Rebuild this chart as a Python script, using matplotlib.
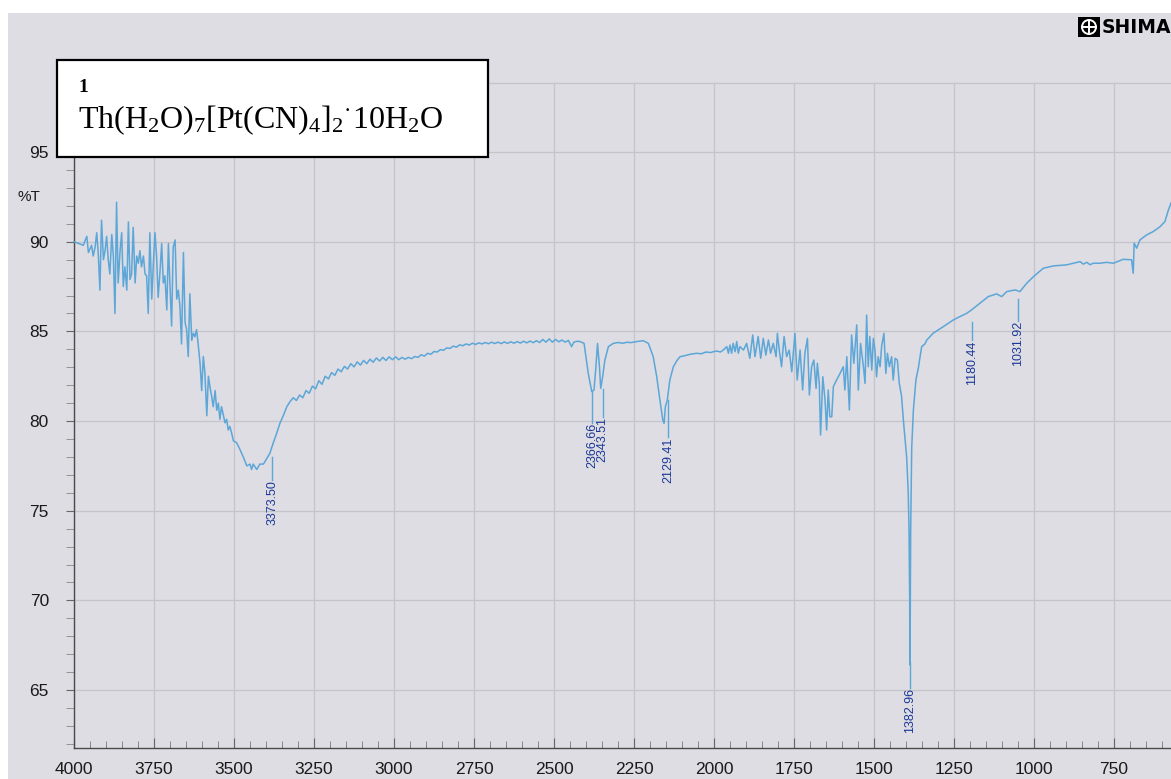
import matplotlib
matplotlib.use("Agg")
import matplotlib.pyplot as plt
from matplotlib.patches import Rectangle, Ellipse
from matplotlib.lines import Line2D
from matplotlib.ticker import MultipleLocator

# ---------------- data ----------------
# O-H region 4000 -> 3335 cm-1
wn_oh = [4000, 3985, 3971, 3960, 3955, 3945, 3940, 3934, 3929, 3924, 3919, 3914, 3908, 3903,
         3898, 3893, 3888, 3882, 3877, 3872, 3867, 3862, 3856, 3851, 3846, 3841, 3835, 3830,
         3825, 3820, 3815, 3809, 3804, 3799, 3794, 3789, 3783, 3778, 3773, 3768, 3763, 3757,
         3752, 3747, 3742, 3737, 3731, 3726, 3721, 3716, 3710, 3705, 3700, 3695, 3690, 3684,
         3679, 3674, 3669, 3664, 3658, 3653, 3648, 3643, 3638, 3632, 3627, 3622, 3617, 3612,
         3606, 3601, 3596, 3591, 3585, 3580, 3575, 3570, 3565, 3559, 3554, 3549, 3544, 3539,
         3533, 3528, 3523, 3518, 3513, 3507, 3502, 3492, 3481, 3471, 3460, 3450, 3445, 3440,
         3429, 3419, 3408, 3398, 3388, 3377, 3367, 3356, 3346, 3335]
t_oh = [90.0, 89.9, 89.8, 90.3, 89.4, 89.8, 89.2, 89.7, 90.5, 89.3, 87.3, 91.2, 89.0, 89.5,
        90.3, 89.0, 88.2, 90.4, 89.2, 86.0, 92.2, 87.7, 89.5, 90.5, 87.5, 88.6, 87.3, 91.1,
        87.9, 88.2, 90.8, 87.7, 89.2, 88.8, 89.5, 88.6, 89.2, 88.2, 88.1, 86.0, 90.5, 86.8,
        88.8, 90.5, 89.2, 86.9, 88.4, 89.9, 87.7, 88.1, 86.2, 89.9, 87.5, 85.3, 89.7, 90.1,
        86.8, 87.3, 86.4, 84.3, 89.4, 85.5, 85.1, 83.6, 87.1, 84.5, 84.9, 84.7, 85.1, 84.3,
        83.2, 81.7, 83.6, 82.7, 80.3, 82.5, 81.9, 81.4, 80.8, 81.7, 80.6, 81.0, 80.1, 80.8,
        80.3, 79.9, 80.1, 79.5, 79.7, 79.3, 78.9, 78.8, 78.4, 78.0, 77.5, 77.6, 77.3, 77.6,
        77.3, 77.6, 77.6, 77.9, 78.2, 78.8, 79.3, 79.9, 80.3, 80.8]

# baseline, CO2 doublet and C-N stretch 3325 -> 1971 cm-1
wn_mid = [3325, 3315, 3305, 3295, 3285, 3275, 3265, 3255, 3245, 3235, 3225, 3215, 3205, 3195,
          3185, 3175, 3165, 3155, 3145, 3135, 3125, 3115, 3105, 3095, 3085, 3075, 3065, 3055,
          3045, 3035, 3025, 3015, 3005, 2995, 2985, 2975, 2965, 2955, 2945, 2935, 2925, 2915,
          2905, 2895, 2885, 2875, 2865, 2855, 2845, 2835, 2825, 2815, 2805, 2795, 2785, 2775,
          2765, 2755, 2745, 2735, 2725, 2715, 2705, 2695, 2685, 2675, 2665, 2655, 2645, 2635,
          2625, 2615, 2605, 2595, 2585, 2575, 2565, 2555, 2545, 2535, 2525, 2515, 2505, 2495,
          2485, 2475, 2465, 2455, 2445, 2438, 2428, 2418, 2406, 2393, 2382, 2375, 2369, 2364,
          2358, 2354, 2348, 2341, 2330, 2315, 2300, 2285, 2270, 2262, 2245, 2235, 2221, 2205,
          2190, 2179, 2169, 2160, 2156, 2152, 2146, 2138, 2127, 2115, 2106, 2090, 2075, 2054,
          2040, 2025, 2010, 2002, 1990, 1980, 1971]
t_mid = [81.08, 81.30, 81.15, 81.45, 81.30, 81.70, 81.55, 81.95, 81.80, 82.25, 82.05, 82.50,
         82.35, 82.70, 82.55, 82.90, 82.75, 83.05, 82.90, 83.20, 83.02, 83.30, 83.12, 83.38,
         83.20, 83.45, 83.28, 83.52, 83.35, 83.55, 83.38, 83.58, 83.42, 83.58, 83.42, 83.55,
         83.45, 83.55, 83.48, 83.60, 83.55, 83.70, 83.62, 83.78, 83.72, 83.88, 83.85, 83.98,
         83.95, 84.08, 84.05, 84.18, 84.12, 84.25, 84.20, 84.30, 84.24, 84.34, 84.27, 84.36,
         84.30, 84.38, 84.31, 84.40, 84.32, 84.40, 84.32, 84.41, 84.33, 84.42, 84.34, 84.43,
         84.35, 84.45, 84.36, 84.46, 84.37, 84.48, 84.38, 84.55, 84.40, 84.58, 84.40, 84.55,
         84.42, 84.52, 84.40, 84.50, 84.15, 84.40, 84.45, 84.43, 84.33, 82.66, 81.64, 81.73,
         83.03, 84.33, 83.03, 81.82, 82.47, 83.40, 84.15, 84.33, 84.38, 84.34, 84.40, 84.37,
         84.42, 84.45, 84.48, 84.33, 83.59, 82.47, 81.17, 80.06, 79.87, 80.80, 81.17, 82.29,
         83.03, 83.40, 83.59, 83.65, 83.72, 83.78, 83.75, 83.85, 83.82, 83.87, 83.90, 83.85,
         83.96]

# water bending region 1960 -> 1427 cm-1
wn_bend = [1960, 1955, 1950, 1945, 1940, 1934, 1929, 1924, 1919, 1908, 1898, 1888, 1879, 1872,
           1862, 1854, 1846, 1838, 1830, 1823, 1815, 1806, 1802, 1796, 1789, 1781, 1773, 1765,
           1757, 1747, 1740, 1731, 1723, 1716, 1708, 1702, 1695, 1688, 1681, 1677, 1671, 1667,
           1660, 1653, 1648, 1643, 1638, 1632, 1627, 1617, 1606, 1596, 1591, 1585, 1577, 1570,
           1563, 1554, 1549, 1542, 1533, 1528, 1523, 1518, 1513, 1507, 1502, 1497, 1492, 1487,
           1481, 1476, 1469, 1463, 1458, 1452, 1445, 1440, 1434, 1427]
t_bend = [84.15, 83.78, 84.24, 83.78, 84.33, 83.87, 84.43, 83.78, 84.15, 83.96, 84.33, 83.50,
          84.80, 83.59, 84.71, 83.50, 84.61, 83.68, 84.52, 83.78, 84.33, 83.59, 84.89, 83.96,
          83.03, 84.71, 83.59, 83.96, 82.75, 84.89, 82.29, 83.96, 81.73, 83.78, 84.61, 81.45,
          83.03, 83.40, 81.82, 83.22, 82.10, 79.22, 82.47, 81.17, 79.50, 81.73, 80.24, 80.24,
          81.92, 82.29, 82.66, 83.03, 81.73, 83.59, 80.62, 84.80, 83.22, 85.36, 81.73, 84.33,
          83.03, 82.10, 85.91, 83.03, 84.71, 82.85, 84.61, 83.96, 82.47, 83.59, 83.03, 84.20,
          84.89, 82.66, 83.78, 83.03, 83.59, 82.29, 83.50, 83.40]

# nitrate band and low-wavenumber tail 1421 -> 572 cm-1
wn_low = [1421, 1414, 1408, 1403, 1398, 1393, 1390.5, 1388.5, 1387.5, 1386.5, 1385.4, 1382.2,
          1377, 1369, 1361, 1356, 1351, 1341, 1335, 1315, 1283, 1252, 1231, 1210, 1195, 1169,
          1143, 1117, 1101, 1085, 1059, 1044, 1023, 1002, 971, 940, 898, 877, 856, 846, 835,
          825, 815, 794, 773, 752, 721, 695, 690, 687, 679, 669, 648, 627, 606, 591, 580, 572]
t_low = [82.10, 81.40, 80.00, 79.00, 78.00, 76.00, 73.9, 70.0, 66.4, 70.0, 73.9, 78.5,
         80.6, 82.3, 83.0, 83.6, 84.15, 84.3, 84.52, 84.90, 85.27, 85.64, 85.83, 86.01, 86.20,
         86.57, 86.94, 87.09, 86.94, 87.22, 87.31, 87.22, 87.68, 88.05, 88.52, 88.65, 88.71,
         88.80, 88.89, 88.75, 88.85, 88.72, 88.80, 88.80, 88.85, 88.80, 89.02, 88.99, 88.24,
         89.92, 89.64, 90.10, 90.38, 90.57, 90.84, 91.12, 91.77, 92.15]

# peak annotations: printed value, where it is printed, line top, text top (%T)
peak_values = [3373.50, 2366.66, 2343.51, 2129.41, 1382.96, 1180.44, 1031.92]
peak_print_wn = [3381, 2381, 2348, 2144, 1386, 1194, 1050]
peak_line_top = [78.0, 81.6, 81.8, 81.2, 66.5, 85.5, 86.8]
peak_text_top = [76.7, 79.9, 80.2, 79.1, 65.1, 84.5, 85.6]

x_ticks = [4000, 3750, 3500, 3250, 3000, 2750, 2500, 2250, 2000, 1750, 1500, 1250, 1000, 750]
y_ticks = [65, 70, 75, 80, 85, 90, 95]

title_number = "1"
formula = r"Th(H$_2$O)$_7$[Pt(CN)$_4$]$_2$$^{·}$10H$_2$O"
logo_text = "SHIMA"

# ---------------- figure ----------------
plt.rcParams["mathtext.fontset"] = "custom"
plt.rcParams["mathtext.rm"] = "Liberation Serif"
plt.rcParams["mathtext.it"] = "Liberation Serif:italic"
plt.rcParams["mathtext.bf"] = "Liberation Serif:bold"
plt.rcParams["mathtext.default"] = "rm"

W, H = 1171, 779
fig = plt.figure(figsize=(W / 100, H / 100), dpi=100)
fig.patch.set_facecolor("white")

paper = "#dddde3"
grid_c = "#c4c4cb"
curve_c = "#5ca6d8"
label_c = "#1b3898"

fig.add_artist(Rectangle((8 / W, 0), 1, (H - 13) / H, transform=fig.transFigure,
                         facecolor=paper, edgecolor="none", zorder=0))

ax = fig.add_axes([74 / W, (H - 748) / H, (W - 74) / W, (748 - 83) / H])
ax.set_facecolor("none")
ax.set_xlim(4000, 571.9)
ax.set_ylim(61.77, 98.85)

for s in ["left", "bottom"]:
    ax.spines[s].set_color("#4a4a4a")
    ax.spines[s].set_linewidth(1.0)
ax.spines["top"].set_color(grid_c)
ax.spines["top"].set_linewidth(1.0)
ax.spines["right"].set_visible(False)

ax.set_xticks(x_ticks)
ax.set_yticks(y_ticks)
ax.xaxis.set_minor_locator(MultipleLocator(50))
ax.yaxis.set_minor_locator(MultipleLocator(1))
ax.tick_params(axis="x", which="major", direction="in", length=7, color="#666666",
               pad=10, labelsize=12.5, labelcolor="#1a1a1a")
ax.tick_params(axis="x", which="minor", direction="in", length=5, color="#777777")
ax.tick_params(axis="y", which="major", direction="out", length=6, color="#666666",
               pad=12, labelsize=12.5, labelcolor="#1a1a1a")
ax.tick_params(axis="y", which="minor", direction="out", length=6, color="#888888")
for lab in ax.get_xticklabels() + ax.get_yticklabels():
    lab.set_fontfamily("Liberation Sans")

ax.grid(which="major", color=grid_c, linewidth=0.9)
ax.set_axisbelow(True)

wn = wn_oh + wn_mid + wn_bend + wn_low
tr = t_oh + t_mid + t_bend + t_low
ax.plot(wn, tr, color=curve_c, linewidth=1.1, zorder=3, clip_on=False)

for val, pos, ltop, ttop in zip(peak_values, peak_print_wn, peak_line_top, peak_text_top):
    ax.plot([pos, pos], [ltop, ttop], color=curve_c, linewidth=1.0, zorder=3)
    ax.text(pos, ttop, f"{val:.2f}", rotation=90, ha="center", va="top", fontsize=9,
            color=label_c, family="Liberation Sans", zorder=4)

fig.text(18 / W, 1 - 197 / H, "%T", fontsize=11, family="Liberation Sans",
         color="#1a1a1a", ha="left", va="center")

# compound label box
fig.add_artist(Rectangle((57 / W, 1 - 157 / H), 431 / W, 97 / H, transform=fig.transFigure,
                         facecolor="white", edgecolor="black", linewidth=1.6, zorder=5))
fig.text(78 / W, 1 - 87 / H, title_number, fontsize=14, fontweight="bold",
         family="Liberation Serif", ha="left", va="center", zorder=6)
fig.text(78 / W, 1 - 128 / H, formula, fontsize=23, family="Liberation Serif",
         ha="left", va="baseline", zorder=6)

# instrument logo
fig.add_artist(Rectangle((1078 / W, 1 - 37 / H), 22 / W, 20 / H, transform=fig.transFigure,
                         facecolor="black", edgecolor="none", zorder=6))
fig.add_artist(Ellipse((1089 / W, 1 - 27 / H), 14 / W, 14 / H, transform=fig.transFigure,
                       facecolor="none", edgecolor="white", linewidth=1.4, zorder=7))
fig.add_artist(Line2D([1089 / W, 1089 / W], [1 - 20 / H, 1 - 34 / H], transform=fig.transFigure,
                      color="white", linewidth=1.4, zorder=7))
fig.add_artist(Line2D([1082 / W, 1096 / W], [1 - 27 / H, 1 - 27 / H], transform=fig.transFigure,
                      color="white", linewidth=1.4, zorder=7))
fig.text(1102 / W, 1 - 27.5 / H, logo_text, fontsize=13.5, fontweight="heavy",
         family="DejaVu Sans", ha="left", va="center", zorder=7)

fig.savefig("out.png", dpi=100)
